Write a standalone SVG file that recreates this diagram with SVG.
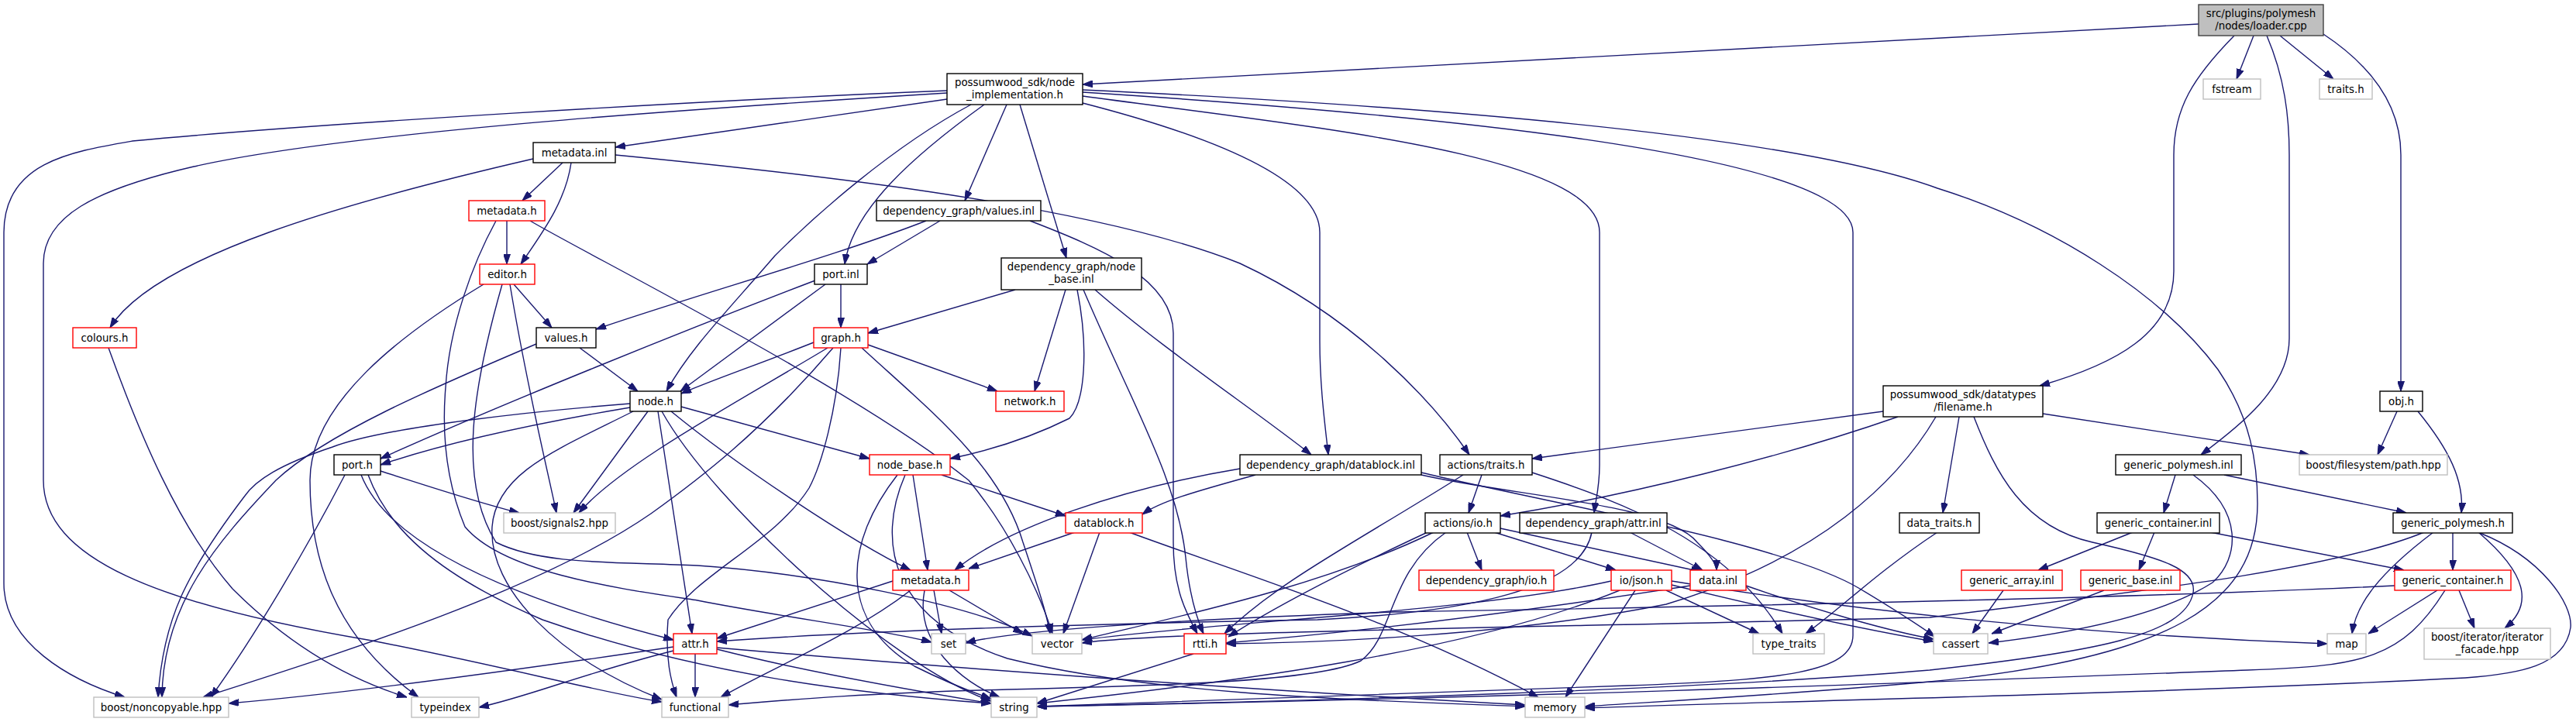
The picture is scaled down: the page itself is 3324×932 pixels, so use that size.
<svg xmlns="http://www.w3.org/2000/svg" width="3324" height="932" viewBox="0 0 3324 932">
<style>
.nd rect{fill:#fff;stroke:#000;stroke-width:1.4}
.nd.r rect{stroke:#ff0000}
.nd.g rect{stroke:#bfbfbf}
.nd.root rect{fill:#bfbfbf;stroke:#404040}
.nd text{font-family:"DejaVu Sans","Liberation Sans",sans-serif;font-size:13.33px;text-anchor:middle;fill:#000}
#edges path{fill:none;stroke:#191970;stroke-width:1.4;marker-end:url(#a)}
</style>
<defs>
<marker id="a" viewBox="0 0 13 9" refX="13" refY="4.5" markerWidth="13" markerHeight="9" markerUnits="userSpaceOnUse" orient="auto"><path d="M0,0 L13,4.5 L0,9 z" fill="#191970" stroke="#191970" stroke-width="1"/></marker>
</defs>
<rect width="3324" height="932" fill="#fff"/>
<g id="edges">
<path d="M2837,31 L1397,109"/>
<path d="M2908,46 L2886,102"/>
<path d="M2942,46 L3011,102"/>
<path d="M2883,46 C2830,100 2805,140 2805,200 L2805,350 C2805,430 2730,470 2632,498"/>
<path d="M2925,46 C2948,100 2954,150 2954,200 L2954,437 C2954,500 2890,550 2840,587"/>
<path d="M2998,44 C3075,95 3098,150 3098,200 L3098,505"/>
<path d="M1222,128 L794,190"/>
<path d="M1222,117 C900,130 400,160 171,182 C90,196 5,210 5,300 L5,753 C5,830 90,878 161,900"/>
<path d="M1222,120 C900,140 450,170 250,215 C120,245 56,280 56,340 L56,620 C56,720 200,780 480,827 C650,860 780,895 854,906"/>
<path d="M1253,135 C1150,190 1050,280 1000,330 C940,400 890,450 860,505"/>
<path d="M1270,135 C1180,200 1100,270 1090,341"/>
<path d="M1299,135 L1245,259"/>
<path d="M1316,135 L1376,333"/>
<path d="M1397,133 C1560,175 1703,230 1703,300 L1703,440 C1703,500 1710,550 1714,587"/>
<path d="M1397,124 C1700,165 2064,200 2064,300 L2064,600 C2064,630 2059,645 2057,662"/>
<path d="M1397,119 C1800,145 2391,195 2391,300 L2391,820 C2391,868 2300,878 2100,885 C1800,895 1500,905 1338,912"/>
<path d="M1397,116 C1800,135 2300,170 2500,243 C2650,290 2790,380 2862,477 C2905,540 2913,600 2913,650 C2913,780 2800,850 2490,880 C2300,897 2150,905 2045,912"/>
<path d="M726,210 L674,259"/>
<path d="M737,210 C730,260 700,300 672,341"/>
<path d="M688,205 C450,260 200,330 142,423"/>
<path d="M794,200 C1000,220 1400,260 1600,340 C1750,410 1850,520 1896,587"/>
<path d="M654,285 L654,341"/>
<path d="M640,285 C610,340 580,420 575,500 C570,560 575,620 600,680 C650,740 800,760 900,775 C1000,795 1150,815 1202,829"/>
<path d="M684,285 C760,330 1100,500 1250,620 C1300,680 1340,760 1358,818"/>
<path d="M1195,285 C1080,330 900,380 769,425"/>
<path d="M1213,285 L1119,341"/>
<path d="M1329,285 C1420,320 1514,360 1514,430 L1514,700 C1514,760 1530,790 1545,818"/>
<path d="M663,367 L712,423"/>
<path d="M658,367 C680,500 705,600 718,662"/>
<path d="M648,367 C610,500 590,620 640,700 C700,730 800,725 900,730 C1050,740 1250,780 1332,821"/>
<path d="M624,367 C520,430 400,520 400,620 C400,720 430,820 540,900"/>
<path d="M1085,367 L1085,423"/>
<path d="M1065,367 L878,505"/>
<path d="M1052,362 C900,420 650,520 491,592"/>
<path d="M1310,374 L1120,430"/>
<path d="M1375,374 L1335,505"/>
<path d="M1390,374 C1405,450 1400,520 1380,540 C1320,570 1260,585 1226,592"/>
<path d="M1398,374 C1460,520 1520,620 1530,720 C1535,770 1545,800 1553,818"/>
<path d="M1413,374 C1500,450 1620,530 1692,587"/>
<path d="M140,449 C180,560 230,680 300,760 C380,840 460,880 525,900"/>
<path d="M748,449 L823,505"/>
<path d="M692,444 C560,500 420,560 356,620 C280,700 210,780 209,900"/>
<path d="M1055,440 C980,470 920,490 879,508"/>
<path d="M1120,445 L1287,505"/>
<path d="M1068,449 C950,520 800,600 747,662"/>
<path d="M1075,449 C980,560 900,620 840,663 C700,760 450,840 262,900"/>
<path d="M1112,449 C1200,530 1290,600 1320,700 C1340,760 1350,790 1355,818"/>
<path d="M1085,449 C1080,530 1060,600 1044,630 C1000,700 900,740 862,800 C858,850 866,880 873,900"/>
<path d="M813,526 C700,545 580,570 491,600"/>
<path d="M879,525 L1122,592"/>
<path d="M866,531 C950,600 1100,700 1175,736"/>
<path d="M849,531 L893,818"/>
<path d="M836,531 L740,662"/>
<path d="M813,521 C700,530 500,550 429,577 C360,600 330,620 316,640 C240,740 210,800 204,900"/>
<path d="M817,531 C720,580 640,610 635,680 C630,760 720,850 854,903"/>
<path d="M854,531 C920,650 1150,860 1279,905"/>
<path d="M491,608 C560,630 620,650 670,662"/>
<path d="M445,613 C400,700 330,820 272,900"/>
<path d="M466,613 C500,700 650,770 869,826"/>
<path d="M475,613 C500,680 560,740 700,800 C900,870 1100,895 1279,908"/>
<path d="M1178,613 L1197,736"/>
<path d="M1215,613 L1375,666"/>
<path d="M1158,613 C1090,700 1080,800 1180,860 C1220,880 1250,892 1279,902"/>
<path d="M1168,613 C1130,700 1150,800 1300,850 C1500,900 1800,905 1968,912"/>
<path d="M1620,613 C1560,630 1500,645 1474,664"/>
<path d="M1600,605 C1450,630 1300,680 1232,736"/>
<path d="M1834,613 C1950,640 2150,650 2190,700 C2210,720 2215,730 2215,736"/>
<path d="M1834,610 C2000,650 2300,700 2400,760 C2450,790 2480,810 2497,822"/>
<path d="M1912,613 L1895,662"/>
<path d="M1888,613 C1750,700 1650,750 1580,818"/>
<path d="M1977,610 C2100,650 2230,700 2300,818"/>
<path d="M2430,531 L1977,592"/>
<path d="M2449,538 C2300,590 2100,640 1936,666"/>
<path d="M2636,534 L2980,587"/>
<path d="M2528,538 L2507,662"/>
<path d="M2498,538 C2450,620 2350,720 2150,780 C1950,820 1700,830 1582,831"/>
<path d="M2547,538 C2575,610 2610,680 2700,700 C2790,720 2835,735 2830,765 C2820,820 2700,842 2490,865 C2200,890 1700,905 1338,912"/>
<path d="M3093,531 L3068,587"/>
<path d="M3120,531 C3160,580 3180,620 3176,662"/>
<path d="M2807,613 L2792,662"/>
<path d="M2870,613 L3105,662"/>
<path d="M2830,613 C2895,660 2890,720 2855,752 C2780,800 2650,820 2566,830"/>
<path d="M1387,687 L1250,734"/>
<path d="M1419,687 L1372,818"/>
<path d="M1457,687 C1600,740 1800,800 1985,900"/>
<path d="M1893,687 L1912,736"/>
<path d="M1928,687 L2085,736"/>
<path d="M1936,682 L2195,738"/>
<path d="M1842,687 C1750,730 1650,780 1585,822"/>
<path d="M1866,687 C1790,740 1800,820 1756,853 C1700,880 1500,885 1300,890 C1100,895 1000,905 940,910"/>
<path d="M1850,687 C1700,760 1500,800 1396,826"/>
<path d="M2103,687 L2197,736"/>
<path d="M2054,687 C2040,760 1900,790 1700,800 C1400,805 1100,815 925,828"/>
<path d="M2500,687 C2420,740 2370,790 2330,818"/>
<path d="M2752,687 L2630,736"/>
<path d="M2780,687 L2760,736"/>
<path d="M2852,687 L3102,736"/>
<path d="M3165,687 L3165,736"/>
<path d="M3140,687 C3070,740 3040,780 3035,818"/>
<path d="M3198,687 C3260,740 3270,780 3232,811"/>
<path d="M3200,688 C3280,720 3320,780 3317,810 C3310,860 3250,870 3181,875 C2800,895 2300,905 2045,914"/>
<path d="M3128,687 C3000,740 2700,770 2490,797 C2000,810 1500,815 1396,830"/>
<path d="M1152,750 L925,824"/>
<path d="M1205,762 L1215,818"/>
<path d="M1225,762 L1320,818"/>
<path d="M1175,762 C1100,820 1000,860 930,900"/>
<path d="M1193,762 C1180,830 1240,880 1290,900"/>
<path d="M2110,762 L2020,900"/>
<path d="M2150,762 L2270,818"/>
<path d="M2157,755 C2300,790 2420,815 2495,828"/>
<path d="M2157,750 C2400,790 2700,820 3003,831"/>
<path d="M2079,750 C1900,790 1600,800 1396,826"/>
<path d="M2090,762 C1900,840 1600,880 1338,908"/>
<path d="M2181,756 C1900,800 1700,820 1582,830"/>
<path d="M2253,756 C2350,790 2440,815 2495,825"/>
<path d="M2585,762 L2545,818"/>
<path d="M2715,762 L2570,818"/>
<path d="M3145,762 L3056,818"/>
<path d="M3173,762 L3193,811"/>
<path d="M3155,762 C3100,850 3050,860 2900,865 C2500,880 2000,900 1338,912"/>
<path d="M3090,756 C2800,770 2400,780 1800,790 C1500,800 1300,815 1246,830"/>
<path d="M897,844 L897,900"/>
<path d="M925,838 C1050,870 1200,895 1279,908"/>
<path d="M925,836 C1200,860 1600,890 1968,910"/>
<path d="M869,835 C700,860 450,895 295,908"/>
<path d="M869,840 C750,870 680,900 618,913"/>
<path d="M1540,844 L1338,908"/>
</g>
<g id="n0" class="nd root"><rect x="2837" y="6" width="161" height="40"/><text x="2917.5" y="21.5">src/plugins/polymesh</text><text x="2917.5" y="37.5">/nodes/loader.cpp</text></g>
<g id="n1" class="nd"><rect x="1222" y="95" width="175" height="40"/><text x="1309.5" y="110.5">possumwood_sdk/node</text><text x="1309.5" y="126.5">_implementation.h</text></g>
<g id="n2" class="nd g"><rect x="2843" y="102" width="74" height="26"/><text x="2880" y="119.5">fstream</text></g>
<g id="n3" class="nd g"><rect x="2993" y="102" width="68" height="26"/><text x="3027" y="119.5">traits.h</text></g>
<g id="n4" class="nd"><rect x="688" y="184" width="106" height="26"/><text x="741" y="201.5">metadata.inl</text></g>
<g id="n5" class="nd r"><rect x="605" y="259" width="98" height="26"/><text x="654" y="276.5">metadata.h</text></g>
<g id="n6" class="nd"><rect x="1131" y="259" width="212" height="26"/><text x="1237" y="276.5">dependency_graph/values.inl</text></g>
<g id="n7" class="nd r"><rect x="619" y="341" width="71" height="26"/><text x="654.5" y="358.5">editor.h</text></g>
<g id="n8" class="nd"><rect x="1051" y="341" width="68" height="26"/><text x="1085" y="358.5">port.inl</text></g>
<g id="n9" class="nd"><rect x="1292" y="333" width="181" height="41"/><text x="1382.5" y="349">dependency_graph/node</text><text x="1382.5" y="365">_base.inl</text></g>
<g id="n10" class="nd r"><rect x="94" y="423" width="82" height="26"/><text x="135" y="440.5">colours.h</text></g>
<g id="n11" class="nd"><rect x="692" y="423" width="77" height="26"/><text x="730.5" y="440.5">values.h</text></g>
<g id="n12" class="nd r"><rect x="1050" y="423" width="70" height="26"/><text x="1085" y="440.5">graph.h</text></g>
<g id="n13" class="nd"><rect x="813" y="505" width="66" height="26"/><text x="846" y="522.5">node.h</text></g>
<g id="n14" class="nd r"><rect x="1285" y="505" width="88" height="26"/><text x="1329" y="522.5">network.h</text></g>
<g id="n15" class="nd"><rect x="2430" y="498" width="206" height="40"/><text x="2533" y="513.5">possumwood_sdk/datatypes</text><text x="2533" y="529.5">/filename.h</text></g>
<g id="n16" class="nd"><rect x="3071" y="505" width="55" height="26"/><text x="3098.5" y="522.5">obj.h</text></g>
<g id="n17" class="nd"><rect x="431" y="587" width="60" height="26"/><text x="461" y="604.5">port.h</text></g>
<g id="n18" class="nd r"><rect x="1122" y="587" width="104" height="26"/><text x="1174" y="604.5">node_base.h</text></g>
<g id="n19" class="nd"><rect x="1600" y="587" width="234" height="26"/><text x="1717" y="604.5">dependency_graph/datablock.inl</text></g>
<g id="n20" class="nd"><rect x="1858" y="587" width="119" height="26"/><text x="1917.5" y="604.5">actions/traits.h</text></g>
<g id="n21" class="nd"><rect x="2730" y="587" width="162" height="26"/><text x="2811" y="604.5">generic_polymesh.inl</text></g>
<g id="n22" class="nd g"><rect x="2967" y="587" width="191" height="26"/><text x="3062.5" y="604.5">boost/filesystem/path.hpp</text></g>
<g id="n23" class="nd g"><rect x="650" y="662" width="144" height="26"/><text x="722" y="679.5">boost/signals2.hpp</text></g>
<g id="n24" class="nd r"><rect x="1375" y="662" width="99" height="26"/><text x="1424.5" y="679.5">datablock.h</text></g>
<g id="n25" class="nd"><rect x="1839" y="662" width="97" height="26"/><text x="1887.5" y="679.5">actions/io.h</text></g>
<g id="n26" class="nd"><rect x="1961" y="662" width="190" height="26"/><text x="2056" y="679.5">dependency_graph/attr.inl</text></g>
<g id="n27" class="nd"><rect x="2451" y="662" width="103" height="26"/><text x="2502.5" y="679.5">data_traits.h</text></g>
<g id="n28" class="nd"><rect x="2706" y="662" width="158" height="26"/><text x="2785" y="679.5">generic_container.inl</text></g>
<g id="n29" class="nd"><rect x="3088" y="662" width="154" height="26"/><text x="3165" y="679.5">generic_polymesh.h</text></g>
<g id="n30" class="nd r"><rect x="1152" y="736" width="98" height="26"/><text x="1201" y="753.5">metadata.h</text></g>
<g id="n31" class="nd r"><rect x="1831" y="736" width="174" height="26"/><text x="1918" y="753.5">dependency_graph/io.h</text></g>
<g id="n32" class="nd r"><rect x="2079" y="736" width="78" height="26"/><text x="2118" y="753.5">io/json.h</text></g>
<g id="n33" class="nd r"><rect x="2181" y="736" width="72" height="26"/><text x="2217" y="753.5">data.inl</text></g>
<g id="n34" class="nd r"><rect x="2531" y="736" width="130" height="26"/><text x="2596" y="753.5">generic_array.inl</text></g>
<g id="n35" class="nd r"><rect x="2685" y="736" width="128" height="26"/><text x="2749" y="753.5">generic_base.inl</text></g>
<g id="n36" class="nd r"><rect x="3090" y="736" width="150" height="26"/><text x="3165" y="753.5">generic_container.h</text></g>
<g id="n37" class="nd r"><rect x="869" y="818" width="56" height="26"/><text x="897" y="835.5">attr.h</text></g>
<g id="n38" class="nd g"><rect x="1202" y="818" width="44" height="26"/><text x="1224" y="835.5">set</text></g>
<g id="n39" class="nd g"><rect x="1332" y="818" width="64" height="26"/><text x="1364" y="835.5">vector</text></g>
<g id="n40" class="nd r"><rect x="1528" y="818" width="54" height="26"/><text x="1555" y="835.5">rtti.h</text></g>
<g id="n41" class="nd g"><rect x="2262" y="818" width="92" height="26"/><text x="2308" y="835.5">type_traits</text></g>
<g id="n42" class="nd g"><rect x="2495" y="818" width="70" height="26"/><text x="2530" y="835.5">cassert</text></g>
<g id="n43" class="nd g"><rect x="3003" y="818" width="50" height="26"/><text x="3028" y="835.5">map</text></g>
<g id="n44" class="nd g"><rect x="3128" y="811" width="163" height="40"/><text x="3209.5" y="826.5">boost/iterator/iterator</text><text x="3209.5" y="842.5">_facade.hpp</text></g>
<g id="n45" class="nd g"><rect x="121" y="900" width="174" height="26"/><text x="208" y="917.5">boost/noncopyable.hpp</text></g>
<g id="n46" class="nd g"><rect x="531" y="900" width="87" height="26"/><text x="574.5" y="917.5">typeindex</text></g>
<g id="n47" class="nd g"><rect x="854" y="900" width="86" height="26"/><text x="897" y="917.5">functional</text></g>
<g id="n48" class="nd g"><rect x="1279" y="900" width="59" height="26"/><text x="1308.5" y="917.5">string</text></g>
<g id="n49" class="nd g"><rect x="1968" y="900" width="77" height="26"/><text x="2006.5" y="917.5">memory</text></g>
</svg>
